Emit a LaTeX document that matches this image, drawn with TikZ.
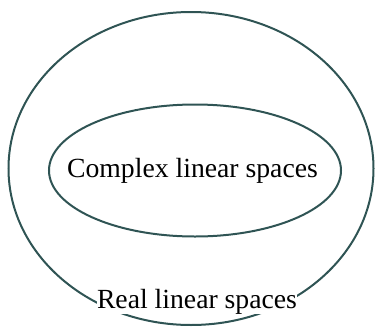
\documentclass[tikz,border=0pt]{standalone}
\usepackage{fontspec}
\setmainfont{Liberation Serif}
\definecolor{edgecol}{RGB}{47,84,84}
\begin{document}
\begin{tikzpicture}[x=1pt,y=-1pt,
  setline/.style={draw=edgecol,line width=2pt},
  lbl/.style={font=\fontsize{27.7}{30}\selectfont,anchor=base,inner sep=0.5pt}]
\useasboundingbox (0,0) rectangle (375,327);
\draw[setline] (191,168.5) ellipse [x radius=182.5, y radius=156.5];
\draw[setline] (195,170.5) ellipse [x radius=146, y radius=66];
\node[lbl] (inner) at (192.5,177) {Complex linear spaces};
\node[lbl,fill=white] (outer) at (197,308) {Real linear spaces};
\end{tikzpicture}
\end{document}
